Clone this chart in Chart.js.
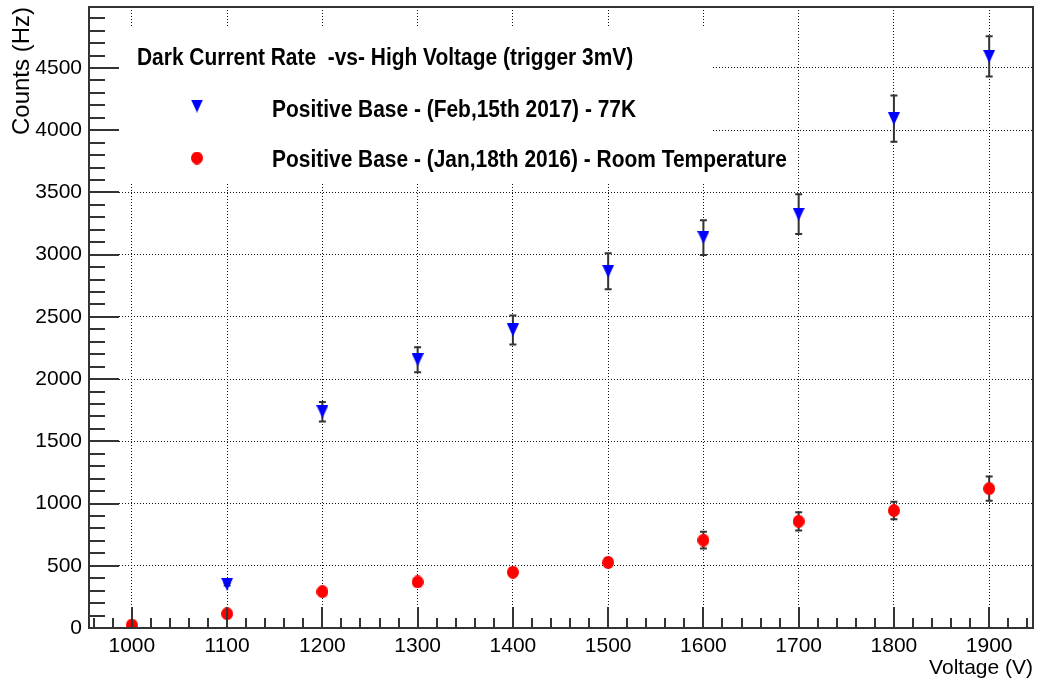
<!DOCTYPE html>
<html>
<head>
<meta charset="utf-8">
<title>Dark Current Rate vs High Voltage</title>
<script src="https://cdn.jsdelivr.net/npm/chart.js@4/dist/chart.umd.min.js"></script>
<style>
  html, body { margin: 0; padding: 0; background: #fff; }
  #wrap { width: 1038px; height: 685px; }
</style>
</head>
<body>
<div id="wrap"><canvas id="chart" width="1038" height="685"></canvas></div>
<script>
// data ------------------------------------------------------
const voltage77K = [1100, 1200, 1300, 1400, 1500, 1600, 1700, 1800, 1900];
const counts77K = [351, 1738, 2155, 2395, 2866, 3137, 3325, 4093, 4593];
const err77K = [10, 78, 100, 117, 145, 140, 160, 186, 162];

const voltageRT = [1000, 1100, 1200, 1300, 1400, 1500, 1600, 1700, 1800, 1900];
const countsRT = [24, 115, 292, 370, 448, 527, 706, 857, 944, 1120];
const errRT = [10, 20, 25, 30, 30, 35, 68, 74, 71, 98];

const xTicks = [1000, 1100, 1200, 1300, 1400, 1500, 1600, 1700, 1800, 1900];
const yTicks = [0, 500, 1000, 1500, 2000, 2500, 3000, 3500, 4000, 4500];

const legendTitle = 'Dark Current Rate  -vs- High Voltage (trigger 3mV)';
const label77K = 'Positive Base - (Feb,15th 2017) - 77K';
const labelRT = 'Positive Base - (Jan,18th 2016) - Room Temperature';
// -----------------------------------------------------------

const FONT = '"Liberation Sans", Arial, Helvetica, sans-serif';
const BLUE = '#0000ff';
const RED = '#ff0000';
const INK = '#333';

function toPoints(xs, ys) {
    return xs.map((x, i) => ({ x: x, y: ys[i] }));
}

// small marker images, a little taller than wide like the ROOT output
function makeMarker(shape, w, h, color) {
    const c = document.createElement('canvas');
    c.width = w;
    c.height = h;
    const g = c.getContext('2d');
    g.fillStyle = color;
    g.beginPath();
    if (shape === 'down') {
        g.moveTo(0, 0);
        g.lineTo(w, 0);
        g.lineTo(w / 2, h);
        g.closePath();
    } else {
        g.ellipse(w / 2, h / 2, w / 2, h / 2, 0, 0, Math.PI * 2);
    }
    g.fill();
    return c;
}
const triMarker = makeMarker('down', 12, 13, BLUE);
const dotMarker = makeMarker('dot', 12, 13, RED);

// ROOT-like extras: legend box, error bars, inner ticks, frame
const rootStyle = {
    id: 'rootStyle',
    beforeDatasetsDraw(chart) {
        const ctx = chart.ctx;
        const ca = chart.chartArea;
        const xs = chart.scales.x;
        const ys = chart.scales.y;

        // white legend box hides the grid behind the text
        ctx.save();
        ctx.fillStyle = '#fff';
        ctx.fillRect(ca.left + 12, ca.top + 20, 611, 156);

        // error bars (markers are drawn on top)
        ctx.strokeStyle = INK;
        ctx.lineWidth = 2;
        const bars = [[voltage77K, counts77K, err77K], [voltageRT, countsRT, errRT]];
        bars.forEach(([vx, vy, ve]) => {
            vx.forEach((x, i) => {
                const px = xs.getPixelForValue(x);
                const y1 = ys.getPixelForValue(vy[i] - ve[i]);
                const y2 = ys.getPixelForValue(vy[i] + ve[i]);
                ctx.beginPath();
                ctx.moveTo(px, y1); ctx.lineTo(px, y2);
                ctx.moveTo(px - 3.5, y1); ctx.lineTo(px + 3.5, y1);
                ctx.moveTo(px - 3.5, y2); ctx.lineTo(px + 3.5, y2);
                ctx.stroke();
            });
        });
        ctx.restore();
    },
    afterDraw(chart) {
        const ctx = chart.ctx;
        const ca = chart.chartArea;
        const xs = chart.scales.x;
        const ys = chart.scales.y;

        // legend text (ROOT fonts look a bit condensed)
        ctx.save();
        ctx.fillStyle = '#000';
        ctx.font = 'bold 23px ' + FONT;
        ctx.textBaseline = 'alphabetic';
        const lines = [[legendTitle, 137, 65], [label77K, 272, 117], [labelRT, 272, 167]];
        lines.forEach(([txt, x, y]) => {
            ctx.save();
            ctx.translate(x, y);
            ctx.scale(0.91, 1);
            ctx.fillText(txt, 0, 0);
            ctx.restore();
        });
        ctx.drawImage(triMarker, 197 - triMarker.width / 2, 106 - triMarker.height / 2);
        ctx.drawImage(dotMarker, 197 - dotMarker.width / 2, 158 - dotMarker.height / 2);
        ctx.restore();

        // inner ticks
        ctx.save();
        ctx.strokeStyle = INK;
        ctx.lineWidth = 2;
        ctx.beginPath();
        for (let v = 960; v <= xs.max; v += 20) {
            const px = Math.round(xs.getPixelForValue(v));
            const len = v % 100 === 0 ? 21 : 10;
            ctx.moveTo(px, ca.bottom); ctx.lineTo(px, ca.bottom - len);
        }
        for (let v = 0; v <= ys.max; v += 100) {
            const py = Math.round(ys.getPixelForValue(v));
            const len = v % 500 === 0 ? 30 : 16;
            ctx.moveTo(ca.left, py); ctx.lineTo(ca.left + len, py);
        }
        ctx.stroke();

        // frame
        ctx.strokeRect(ca.left, ca.top, ca.right - ca.left, ca.bottom - ca.top);
        ctx.restore();
    }
};

const ctx = document.getElementById('chart');
const myChart = new Chart(ctx, {
    type: 'scatter',
    data: {
        datasets: [{
            label: label77K,
            data: toPoints(voltage77K, counts77K),
            pointStyle: triMarker,
            backgroundColor: BLUE,
            borderColor: BLUE
        }, {
            label: labelRT,
            data: toPoints(voltageRT, countsRT),
            pointStyle: dotMarker,
            backgroundColor: RED,
            borderColor: RED
        }]
    },
    options: {
        responsive: false,
        animation: false,
        devicePixelRatio: 1,
        layout: { padding: { top: 7, right: 4, left: 0, bottom: 0 } },
        plugins: {
            legend: { display: false },
            tooltip: { enabled: false }
        },
        scales: {
            x: {
                type: 'linear',
                min: 955,
                max: 1946,
                afterFit: (s) => { s.height = 57; s.paddingLeft = 0; s.paddingRight = 0; },
                afterBuildTicks: (s) => { s.ticks = xTicks.map(v => ({ value: v })); },
                grid: { color: '#111', lineWidth: 1, drawTicks: false },
                border: { display: false, dash: [1, 2] },
                ticks: {
                    color: '#000',
                    font: { family: FONT, size: 21 },
                    padding: 6,
                    maxRotation: 0,
                    autoSkip: false,
                    callback: (v) => String(v)
                },
                title: {
                    display: true,
                    text: 'Voltage (V)',
                    align: 'end',
                    color: '#000',
                    font: { family: FONT, size: 21 },
                    padding: { top: 0, bottom: 4 }
                }
            },
            y: {
                type: 'linear',
                min: 0,
                max: 4990,
                afterFit: (s) => { s.width = 89; s.paddingTop = 0; s.paddingBottom = 0; },
                afterBuildTicks: (s) => { s.ticks = yTicks.map(v => ({ value: v })); },
                grid: { color: '#111', lineWidth: 1, drawTicks: false },
                border: { display: false, dash: [1, 2] },
                ticks: {
                    color: '#000',
                    font: { family: FONT, size: 21 },
                    padding: 7,
                    autoSkip: false,
                    callback: (v) => String(v)
                },
                title: {
                    display: true,
                    text: 'Counts (Hz)',
                    align: 'end',
                    color: '#000',
                    font: { family: FONT, size: 24 },
                    padding: { top: 8, bottom: 0 }
                }
            }
        }
    },
    plugins: [rootStyle]
});
</script>
</body>
</html>
